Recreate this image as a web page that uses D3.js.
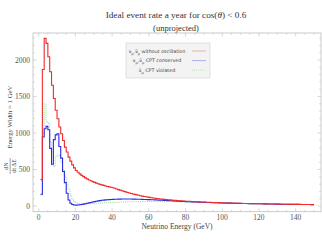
<!DOCTYPE html>
<html>
<head>
<meta charset="UTF-8">
<style>
  body { margin: 0; background: #fff; }
  svg { display: block; }
</style>
</head>
<body>
<div id="chart"></div>
<script src="https://cdn.jsdelivr.net/npm/d3@7"></script>
<script>
// 1 GeV bins, lower edges 1..149 (last edge 150)
const binEdges = d3.range(1, 151);

const noOsc = [
  362, 1870, 2297, 2228, 2045, 1840, 1655, 1472, 1311, 1196,
  1082, 990, 898, 807, 739, 670, 615, 564, 523, 486,
  462, 440, 420, 402, 386, 371, 357, 345, 334, 324,
  314, 305, 297, 289, 282, 275, 268, 262, 256, 250,
  243, 234, 225, 217, 209, 201, 193, 186, 179, 172,
  165, 159, 153, 147, 141, 136, 131, 126, 122, 118,
  114, 110, 106, 103, 100, 97, 94, 91, 88, 86,
  84, 81, 79, 77, 75, 73, 71, 69, 68, 66,
  64, 63, 61, 60, 58, 57, 56, 55, 54, 53,
  52, 51, 50, 49, 48, 47, 46, 45, 44, 43,
  42, 41, 41, 40, 39, 39, 38, 37, 37, 36,
  35, 35, 34, 34, 33, 33, 32, 32, 31, 31,
  30, 30, 29, 29, 28, 28, 27, 27, 27, 26,
  26, 25, 25, 25, 24, 24, 23, 23, 23, 22,
  22, 22, 21, 21, 21, 20, 20, 20, 19
];

const cptConserved = [
  161, 945, 1059, 1091, 1045, 790, 573, 910, 975, 990,
  816, 656, 472, 320, 175, 83, 37, 20, 14, 12,
  14, 17, 21, 26, 31, 37, 43, 49, 55, 60,
  65, 70, 74, 78, 81, 84, 86, 88, 90, 91,
  92, 93, 94, 94, 95, 95, 95, 95, 95, 95,
  94, 94, 93, 93, 92, 91, 90, 89, 88, 87,
  86, 85, 84, 83, 81, 80, 79, 77, 76, 74,
  73, 71, 70, 68, 67, 66, 64, 63, 62, 60,
  59, 58, 57, 56, 55, 54, 53, 52, 51, 50,
  49, 48, 48, 47, 46, 45, 44, 43, 42, 42,
  41, 40, 40, 39, 38, 38, 37, 36, 36, 35,
  35, 34, 34, 33, 33, 32, 32, 31, 31, 30,
  30, 29, 29, 28, 28, 27, 27, 27, 26, 26,
  25, 25, 25, 24, 24, 23, 23, 23, 22, 22,
  22, 21, 21, 21, 20, 20, 20, 19, 19
];

const cptViolated = [
  150, 990, 1400, 1160, 1130, 880, 560, 540, 680, 700,
  690, 600, 500, 410, 330, 230, 150, 95, 62, 45,
  36, 31, 29, 28, 28, 29, 30, 31, 33, 34,
  36, 38, 40, 41, 43, 44, 46, 47, 48, 50,
  51, 52, 53, 54, 55, 56, 56, 57, 58, 58,
  59, 59, 60, 60, 60, 61, 61, 61, 61, 61,
  61, 61, 61, 61, 61, 61, 60, 60, 60, 60,
  59, 59, 59, 58, 58, 57, 57, 56, 56, 55,
  55, 54, 53, 53, 52, 51, 51, 50, 49, 49,
  48, 47, 47, 46, 45, 45, 44, 43, 42, 42,
  41, 40, 40, 39, 38, 38, 37, 36, 36, 35,
  35, 34, 34, 33, 33, 32, 32, 31, 31, 30,
  30, 29, 29, 28, 28, 27, 27, 27, 26, 26,
  25, 25, 25, 24, 24, 23, 23, 23, 22, 22,
  22, 21, 21, 21, 20, 20, 20, 19, 19
];

const xTicks = [0, 20, 40, 60, 80, 100, 120, 140];
const yTicks = [0, 500, 1000, 1500, 2000];

const W = 322, H = 241;
const margin = {top: 33, right: 1, bottom: 29.3, left: 33};
const width = W - margin.left - margin.right,
      height = H - margin.top - margin.bottom;

const svg = d3.select("#chart").append("svg")
  .attr("width", W).attr("height", H);

const g = svg.append("g")
  .attr("transform", `translate(${margin.left},${margin.top})`);

const x = d3.scaleLinear().domain([-3.1, 153.8]).range([0, width]);
const y = d3.scaleLinear().domain([-78, 2370]).range([height, 0]);

const frameCol = "#bdbdbd";
const serif = "'Liberation Serif', 'DejaVu Serif', serif";

// frame
g.append("rect")
  .attr("width", width).attr("height", height)
  .attr("fill", "none").attr("stroke", frameCol).attr("stroke-width", 0.8);

// ticks inside frame (bottom/top and left/right)
const xMinor = d3.range(0, 155, 5);
const yMinor = d3.range(0, 2400, 100);
xMinor.forEach(v => {
  const len = v % 20 === 0 ? 3.5 : 1.8;
  g.append("line").attr("x1", x(v)).attr("x2", x(v)).attr("y1", height).attr("y2", height - len)
    .attr("stroke", frameCol).attr("stroke-width", 0.6);
  g.append("line").attr("x1", x(v)).attr("x2", x(v)).attr("y1", 0).attr("y2", len)
    .attr("stroke", frameCol).attr("stroke-width", 0.6);
});
yMinor.forEach(v => {
  const len = v % 500 === 0 ? 3.5 : 1.8;
  g.append("line").attr("y1", y(v)).attr("y2", y(v)).attr("x1", 0).attr("x2", len)
    .attr("stroke", frameCol).attr("stroke-width", 0.6);
  g.append("line").attr("y1", y(v)).attr("y2", y(v)).attr("x1", width).attr("x2", width - len)
    .attr("stroke", frameCol).attr("stroke-width", 0.6);
});

// tick labels
g.selectAll(".xl").data(xTicks).join("text")
  .attr("x", d => x(d)).attr("y", height + 8)
  .attr("text-anchor", "middle")
  .style("font-family", serif).style("font-size", "7.5px").style("fill", "#555")
  .text(d => d);
g.selectAll(".yl").data(yTicks).join("text")
  .attr("x", -3).attr("y", d => y(d) + 2.6)
  .attr("text-anchor", "end")
  .style("font-family", serif).style("font-size", "7.5px").style("fill", "#555")
  .text(d => d);

// histograms
const step = d3.line()
  .x(d => x(d[0])).y(d => y(d[1]))
  .curve(d3.curveStepAfter);
function pts(vals) {
  const p = vals.map((v, i) => [binEdges[i], v]);
  p.push([binEdges[vals.length], vals[vals.length - 1]]);
  return p;
}

g.append("path").datum(pts(cptViolated))
  .attr("d", step).attr("fill", "none")
  .attr("stroke", "#8fd88f").attr("stroke-width", 1)
  .attr("stroke-dasharray", "1,1.2");
g.append("path").datum(pts(cptConserved))
  .attr("d", step).attr("fill", "none")
  .attr("stroke", "#2a2ae6").attr("stroke-width", 1.1);
g.append("path").datum(pts(noOsc))
  .attr("d", step).attr("fill", "none")
  .attr("stroke", "#ee2a2a").attr("stroke-width", 1.1);

// title
svg.append("text").attr("x", 176).attr("y", 18)
  .attr("text-anchor", "middle")
  .style("font-family", serif).style("font-size", "9.2px").style("fill", "#333")
  .html("Ideal event rate a year for cos(<tspan font-style='italic'>θ</tspan>) &lt; 0.6");
svg.append("text").attr("x", 176).attr("y", 31)
  .attr("text-anchor", "middle")
  .style("font-family", serif).style("font-size", "8.5px").style("fill", "#333")
  .text("(unprojected)");

// x label
svg.append("text").attr("x", 177).attr("y", 229)
  .attr("text-anchor", "middle")
  .style("font-family", serif).style("font-size", "7.5px").style("fill", "#444")
  .text("Neutrino Energy (GeV)");

// y label: fraction + text, rotated
const yl = svg.append("g");
yl.append("text")
  .attr("transform", "translate(11.5,117) rotate(-90)")
  .attr("text-anchor", "middle")
  .style("font-family", serif).style("font-size", "6.8px").style("fill", "#444")
  .text("Energy Width = 1 GeV");
yl.append("text")
  .attr("transform", "translate(8.3,166) rotate(-90)")
  .attr("text-anchor", "middle")
  .style("font-family", serif).style("font-size", "6px").style("fill", "#444")
  .text("dN");
yl.append("line").attr("x1", 10.2).attr("x2", 10.2).attr("y1", 158).attr("y2", 174)
  .attr("stroke", "#444").attr("stroke-width", 0.5);
yl.append("text")
  .attr("transform", "translate(16,166) rotate(-90)")
  .attr("text-anchor", "middle")
  .style("font-family", serif).style("font-size", "6px").style("fill", "#444")
  .text("dt ΔE");

// legend
const leg = svg.append("g");
leg.append("rect").attr("x", 126).attr("y", 43).attr("width", 84).attr("height", 35)
  .attr("fill", "#f3f3f3").attr("stroke", "#d0d0d0").attr("stroke-width", 0.6);
const legItems = [
  {lab: "<tspan>ν</tspan><tspan baseline-shift='sub' font-size='3.5px'>μ</tspan>,<tspan>ν̄</tspan><tspan baseline-shift='sub' font-size='3.5px'>μ</tspan> without oscillation", col: "#f08080", dash: null},
  {lab: "<tspan>ν</tspan><tspan baseline-shift='sub' font-size='3.5px'>μ</tspan>,<tspan>ν̄</tspan><tspan baseline-shift='sub' font-size='3.5px'>μ</tspan>  CPT conserved", col: "#8080f0", dash: null},
  {lab: "<tspan>ν̄</tspan><tspan baseline-shift='sub' font-size='3.5px'>μ</tspan>  CPT violated", col: "#8fd88f", dash: "1,1"}
];
legItems.forEach((it, i) => {
  const yy = 51 + i * 9.6;
  leg.append("text").attr("x", 157).attr("y", yy + 1.7)
    .attr("text-anchor", "middle")
    .style("font-family", "'DejaVu Sans', sans-serif").style("font-size", "4.8px").style("fill", "#444")
    .html(it.lab);
  leg.append("line").attr("x1", 192).attr("x2", 206).attr("y1", yy).attr("y2", yy)
    .attr("stroke", it.col).attr("stroke-width", 0.6)
    .attr("stroke-dasharray", it.dash);
});
</script>
</body>
</html>
